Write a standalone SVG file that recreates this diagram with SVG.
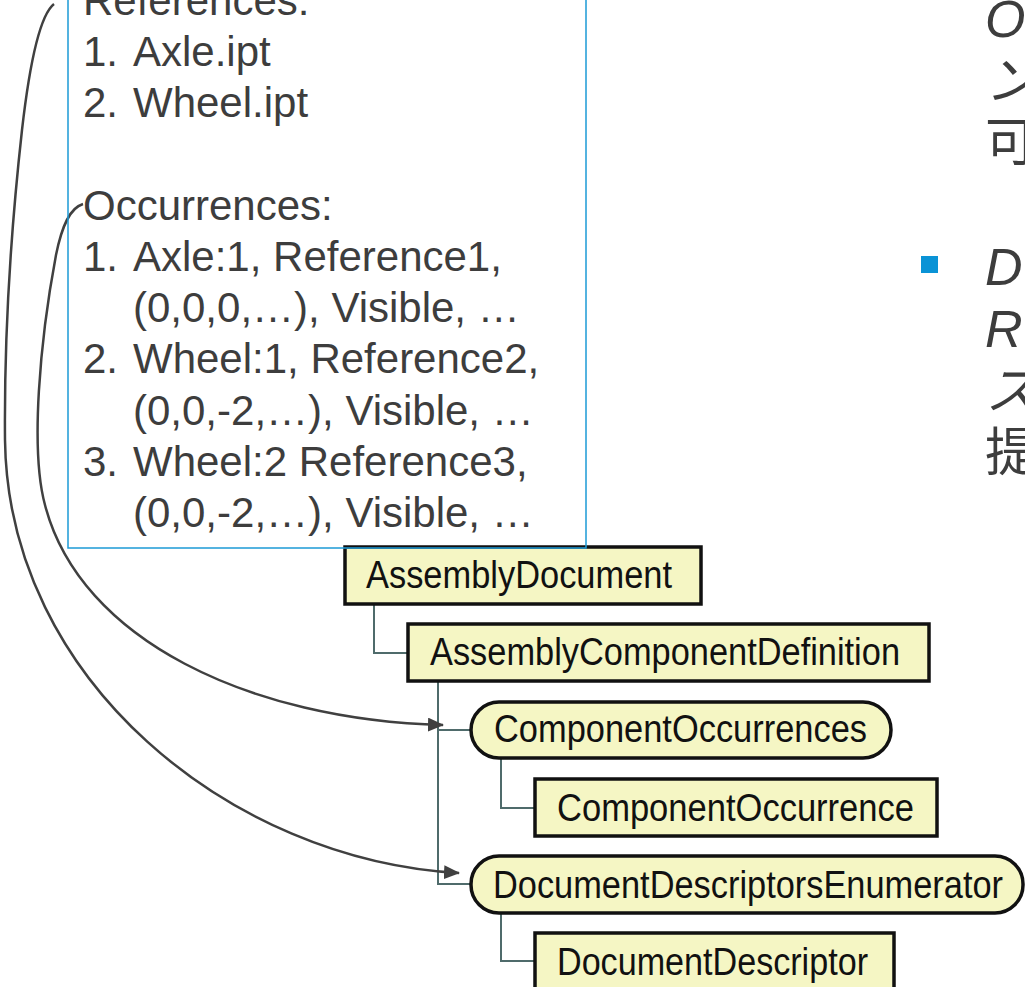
<svg xmlns="http://www.w3.org/2000/svg" width="1025" height="987" viewBox="0 0 1025 987">
<defs>
<style>
.t{font-family:"Liberation Sans",Arial,sans-serif;font-size:42px;fill:#3d3d3d}
.j{font-family:"Liberation Sans","Noto Sans CJK JP",sans-serif;font-size:52px;fill:#3d3d3d}
.node{fill:#f5f6c4;stroke:#111;stroke-width:3.5}
.nt{font-family:"Liberation Sans",Arial,sans-serif;font-size:38px;fill:#111}
.tree{fill:none;stroke:#4f6b6b;stroke-width:2}
.arc{fill:none;stroke:#404040;stroke-width:2.5}
</style>
<marker id="ah" viewBox="0 0 16 14" refX="15" refY="7" markerUnits="userSpaceOnUse" markerWidth="16" markerHeight="14" orient="auto">
<path d="M0,0 L16,7 L0,14 Z" fill="#404040"/>
</marker>
</defs>
<rect width="1025" height="987" fill="#fff"/>

<g id="text-box">
<text class="t" x="83" y="15">References:</text>
<text class="t" x="83" y="66">1.</text><text class="t" x="133" y="66">Axle.ipt</text>
<text class="t" x="83" y="117">2.</text><text class="t" x="133" y="117">Wheel.ipt</text>
<text class="t" x="83" y="220">Occurrences:</text>
<text class="t" x="83" y="271">1.</text><text class="t" x="133" y="271">Axle:1, Reference1,</text>
<text class="t" x="133" y="322">(0,0,0,…), Visible, …</text>
<text class="t" x="83" y="373">2.</text><text class="t" x="133" y="373">Wheel:1, Reference2,</text>
<text class="t" x="133" y="425">(0,0,-2,…), Visible, …</text>
<text class="t" x="83" y="476">3.</text><text class="t" x="133" y="476">Wheel:2 Reference3,</text>
<text class="t" x="133" y="527">(0,0,-2,…), Visible, …</text>
</g>

<g id="right-text">
<text class="j" x="985" y="37" font-style="italic">O</text>
<text class="j" x="985" y="99" font-style="italic">ン</text>
<text class="j" x="985" y="161">可</text>
<rect x="921" y="256" width="17" height="17" fill="#0a93d6"/>
<text class="j" x="985" y="285" font-style="italic">D</text>
<text class="j" x="985" y="347" font-style="italic">R</text>
<text class="j" x="985" y="409" font-style="italic">ス</text>
<text class="j" x="985" y="471">提</text>
</g>

<g id="connectors">
<path class="tree" d="M374,604 V653 H408"/>
<path class="tree" d="M438,681 V884 H471 M438,730 H471"/>
<path class="tree" d="M501,758 V808 H535"/>
<path class="tree" d="M501,913 V961 H535"/>
<path class="arc" d="M83,204 C70,208 62,225 56,255 C40,340 30,450 45,505 C80,640 250,720 443,725" marker-end="url(#ah)"/>
<path class="arc" d="M54,4 C40,15 30,60 22,130 C12,220 4,330 5,440 C8,680 230,860 459,873" marker-end="url(#ah)"/>
</g>

<g id="AssemblyDocument">
<rect class="node" x="345" y="547" width="356" height="57"/>
<text class="nt" x="366" y="588" textLength="306" lengthAdjust="spacingAndGlyphs">AssemblyDocument</text>
</g>
<g id="AssemblyComponentDefinition">
<rect class="node" x="408" y="624" width="521" height="57"/>
<text class="nt" x="430" y="665" textLength="470" lengthAdjust="spacingAndGlyphs">AssemblyComponentDefinition</text>
</g>
<g id="ComponentOccurrences">
<rect class="node" x="471" y="702" width="420" height="56" rx="28"/>
<text class="nt" x="494" y="742" textLength="373" lengthAdjust="spacingAndGlyphs">ComponentOccurrences</text>
</g>
<g id="ComponentOccurrence">
<rect class="node" x="535" y="779" width="402" height="57"/>
<text class="nt" x="557" y="821" textLength="357" lengthAdjust="spacingAndGlyphs">ComponentOccurrence</text>
</g>
<g id="DocumentDescriptorsEnumerator">
<rect class="node" x="471" y="856" width="552" height="57" rx="28"/>
<text class="nt" x="493" y="898" textLength="510" lengthAdjust="spacingAndGlyphs">DocumentDescriptorsEnumerator</text>
</g>
<g id="DocumentDescriptor">
<rect class="node" x="535" y="933" width="359" height="70"/>
<text class="nt" x="557" y="975" textLength="311" lengthAdjust="spacingAndGlyphs">DocumentDescriptor</text>
</g>

<rect id="box-border" x="68" y="-10" width="518" height="558" fill="none" stroke="#1d9ad6" stroke-width="1.5"/>
</svg>
